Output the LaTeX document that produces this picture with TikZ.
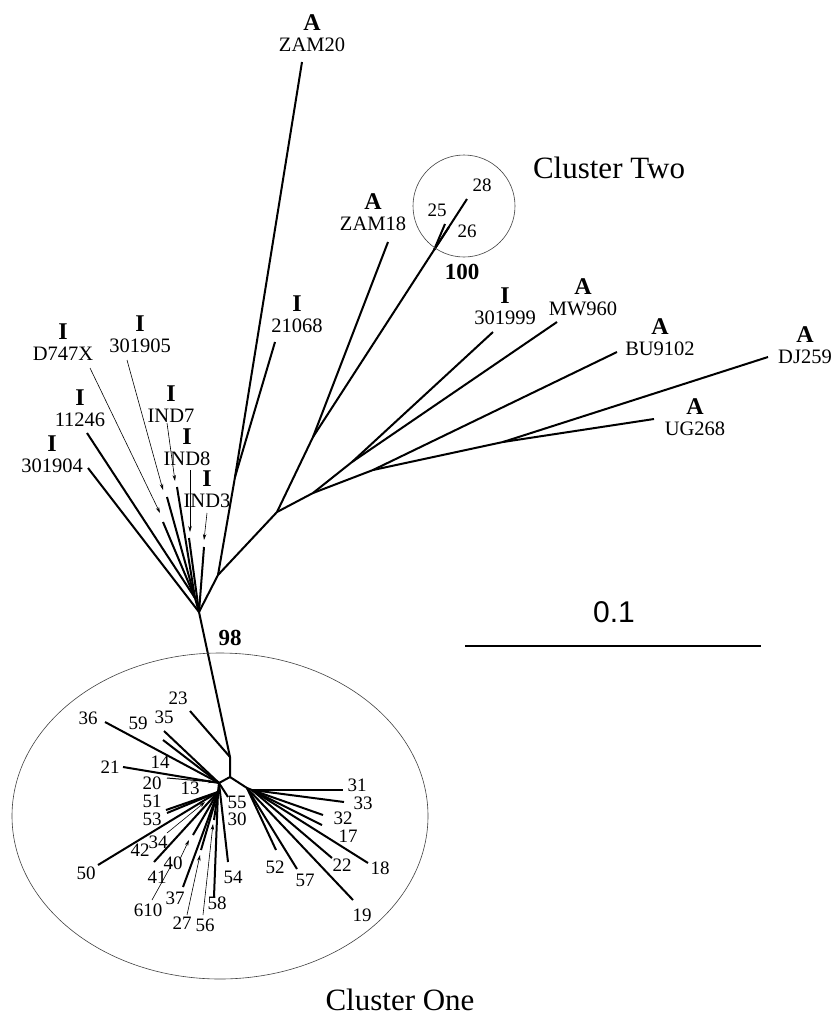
\documentclass[tikz,border=0pt]{standalone}
\usepackage{fontspec}
\setmainfont{Liberation Serif}
\newfontfamily\barfont{Liberation Sans}
\usetikzlibrary{arrows.meta}
\newcommand\strainlbl[2]{{\fontsize{24}{24}\selectfont\bfseries #1}\\#2}
\begin{document}
\begin{tikzpicture}[x=1pt,y=-1pt,
 br/.style={line width=2pt},
 lead/.style={line width=0.6pt,-{Stealth[length=6pt,width=3.5pt]}},
 plain/.style={line width=0.6pt},
 num/.style={font=\fontsize{19}{19}\selectfont,inner sep=0pt},
 strain/.style={font=\fontsize{20.5}{21.5}\selectfont,align=center,inner sep=0pt},
 boot/.style={font=\fontsize{23}{23}\selectfont\bfseries,inner sep=0pt},
 ring/.style={draw=black!75,line width=0.6pt}]
\useasboundingbox (0,0) rectangle (835,1026);

% ---------- internal nodes, upper tree ----------
\coordinate (r0) at (199,612);
\coordinate (n1) at (218,575);
\coordinate (j1) at (235,477);
\coordinate (n2) at (277,512);
\coordinate (n3) at (313,437);
\coordinate (n4) at (434,250);
\coordinate (n5) at (313,493);
\coordinate (n6) at (352,462);
\coordinate (n7) at (373,470);
\coordinate (n8) at (503,442);
\coordinate (cv) at (195,598);

% leaves upper tree
\coordinate (lzam20) at (302,62);
\coordinate (l21068) at (275,342);
\coordinate (lzam18) at (388,242);
\coordinate (l28) at (467,199);
\coordinate (l25) at (445,224);
\coordinate (l26) at (449,227);
\coordinate (l301999) at (493,332);
\coordinate (lmw) at (557,322);
\coordinate (lbu) at (617,352);
\coordinate (ldj) at (768,357);
\coordinate (lug) at (654,419);
\coordinate (l11246) at (87,433);
\coordinate (l301904) at (88,468);
\coordinate (ld747) at (163,522);
\coordinate (l301905) at (167,497);
\coordinate (lind7) at (177,487);
\coordinate (lind8) at (189,538);
\coordinate (lind3) at (204,547);

% arrow tails/heads for upper labels
\coordinate (ad1) at (90,368);   \coordinate (ad2) at (160,513);
\coordinate (ae1) at (127,360);  \coordinate (ae2) at (163,490);
\coordinate (af1) at (167,423);  \coordinate (af2) at (175,481);
\coordinate (ag1) at (190,470);  \coordinate (ag2) at (190,532);
\coordinate (ah1) at (207,513);  \coordinate (ah2) at (204,540);

% branches upper tree
\draw[br] (r0) -- (n1) -- (j1) -- (lzam20);
\draw[br] (j1) -- (l21068);
\draw[br] (n1) -- (n2) -- (n3) -- (lzam18);
\draw[br] (n3) -- (n4) -- (l28);
\draw[br] (n4) -- (l25);
\draw[br] (n4) -- (l26);
\draw[br] (n2) -- (n5) -- (n6) -- (l301999);
\draw[br] (n6) -- (lmw);
\draw[br] (n5) -- (n7) -- (lbu);
\draw[br] (n7) -- (n8) -- (ldj);
\draw[br] (n8) -- (lug);
\draw[br] (r0) -- (l301904);
\draw[br] (cv) -- (l11246);
\draw[br] (cv) -- (ld747);
\draw[br] (cv) -- (l301905);
\draw[br] (cv) -- (lind7);
\draw[br] (r0) -- (cv);
\draw[br] (r0) -- (lind8);
\draw[br] (r0) -- (lind3);
\draw[lead] (ad1) -- (ad2);
\draw[lead] (ae1) -- (ae2);
\draw[lead] (af1) -- (af2);
\draw[lead] (ag1) -- (ag2);
\draw[lead] (ah1) -- (ah2);

% upper labels
\node[strain] (tzam20) at (312,33) {\strainlbl{A}{ZAM20}};
\node[strain] (tzam18) at (373,212) {\strainlbl{A}{ZAM18}};
\node[strain] (t21068) at (297,314) {\strainlbl{I}{21068}};
\node[strain] (t301999) at (505,306) {\strainlbl{I}{301999}};
\node[strain] (tmw) at (583,297) {\strainlbl{A}{MW960}};
\node[strain] (tbu) at (660,337) {\strainlbl{A}{BU9102}};
\node[strain] (tdj) at (805,345) {\strainlbl{A}{DJ259}};
\node[strain] (tug) at (695,417) {\strainlbl{A}{UG268}};
\node[strain] (td747) at (63,342) {\strainlbl{I}{D747X}};
\node[strain] (t301905) at (140,334) {\strainlbl{I}{301905}};
\node[strain] (t11246) at (80,408) {\strainlbl{I}{11246}};
\node[strain] (t301904) at (52,454) {\strainlbl{I}{301904}};
\node[strain] (tind7) at (171,404) {\strainlbl{I}{IND7}};
\node[strain] (tind8) at (187,447) {\strainlbl{I}{IND8}};
\node[strain] (tind3) at (207,489) {\strainlbl{I}{IND3}};

\node[num] (t28) at (482,185) {28};
\node[num] (t25) at (437,210) {25};
\node[num] (t26) at (467,231) {26};
\node[boot] (b100) at (462,272) {100};
\node[boot] (b98) at (230,638) {98};

% cluster two ring and title
\draw[ring] (464,206) ellipse [x radius=51, y radius=51];
\node[font=\fontsize{31}{31}\selectfont,inner sep=0pt] (ctwo) at (609,168) {Cluster Two};

% ---------- cluster one ----------
\coordinate (s1) at (230,757);
\coordinate (s2) at (230,777);
\coordinate (hl) at (219,783);
\coordinate (hl2) at (218,792);
\coordinate (hr) at (247,788);
\coordinate (hr2) at (252,790);

\draw[br] (r0) -- (s1) -- (s2) -- (hl);
\draw[br] (hl) -- (hl2);
\draw[br] (s2) -- (hr);

\coordinate (c23) at (190,711);
\coordinate (c36) at (105,722);
\coordinate (c59) at (163,740);
\coordinate (c35) at (164,731);
\coordinate (c21) at (123,767);
\coordinate (c51) at (166,810);
\coordinate (c53) at (167,813);
\coordinate (c42) at (154,862);
\coordinate (c50) at (98,865);
\coordinate (c40) at (193,835);
\coordinate (c37) at (183,887);
\coordinate (c27) at (201,850);
\coordinate (c56) at (214,820);
\coordinate (c58) at (214,897);
\coordinate (c54) at (228,862);
\coordinate (c55) at (228,797);
\coordinate (c31) at (343,790);
\coordinate (c33) at (344,802);
\coordinate (c32) at (323,815);
\coordinate (c17) at (322,825);
\coordinate (c18) at (368,863);
\coordinate (c22) at (332,858);
\coordinate (c19) at (353,900);
\coordinate (c57) at (297,869);
\coordinate (c52) at (276,850);

\draw[br] (s1) -- (c23);
\foreach \c in {c36,c59,c35,c21} \draw[br] (hl) -- (\c);
\foreach \c in {c51,c53,c42,c50,c40,c37,c27,c56,c58} \draw[br] (hl2) -- (\c);
\draw[br] (hl) -- (c54);
\draw[br] (hl) -- (c55);
\draw[br] (hr) -- (hr2);
\foreach \c in {c31,c33,c32,c17,c18,c22} \draw[br] (hr2) -- (\c);
\foreach \c in {c19,c57,c52} \draw[br] (hr) -- (\c);

% thin leaders in cluster one
\coordinate (a20a) at (167,778);  \coordinate (a20b) at (214,782);
\coordinate (a34a) at (167,833);  \coordinate (a34b) at (205,802);
\coordinate (a40a) at (180,859);  \coordinate (a40b) at (189,840);
\coordinate (a61a) at (152,900);  \coordinate (a61b) at (172,864);
\coordinate (a27a) at (187,915);  \coordinate (a27b) at (200,855);
\coordinate (a56a) at (203,915);  \coordinate (a56b) at (213,824);
\draw[lead,line width=1pt] (a20a) -- (a20b);
\draw[lead] (a34a) -- (a34b);
\draw[lead] (a40a) -- (a40b);
\draw[plain] (a61a) -- (a61b);
\draw[lead] (a27a) -- (a27b);
\draw[lead] (a56a) -- (a56b);

% cluster one labels
\node[num] (k23) at (178,698) {23};
\node[num] (k36) at (88,718) {36};
\node[num] (k59) at (138,723) {59};
\node[num] (k35) at (164,717) {35};
\node[num] (k14) at (160,762) {14};
\node[num] (k21) at (110,767) {21};
\node[num] (k20) at (152,783) {20};
\node[num] (k13) at (190,788) {13};
\node[num] (k51) at (152,801) {51};
\node[num] (k53) at (152,819) {53};
\node[num] (k34) at (158,842) {34};
\node[num] (k42) at (140,850) {42};
\node[num] (k50) at (86,873) {50};
\node[num] (k40) at (173,863) {40};
\node[num] (k41) at (157,877) {41};
\node[num] (k610) at (148,910) {610};
\node[num] (k37) at (175,898) {37};
\node[num] (k27) at (182,923) {27};
\node[num] (k56) at (205,925) {56};
\node[num] (k58) at (217,903) {58};
\node[num] (k54) at (233,877) {54};
\node[num] (k55) at (237,802) {55};
\node[num] (k30) at (237,819) {30};
\node[num] (k52) at (275,867) {52};
\node[num] (k57) at (305,880) {57};
\node[num] (k19) at (362,915) {19};
\node[num] (k22) at (342,865) {22};
\node[num] (k18) at (380,868) {18};
\node[num] (k17) at (348,836) {17};
\node[num] (k32) at (343,818) {32};
\node[num] (k33) at (363,803) {33};
\node[num] (k31) at (357,785) {31};

\draw[ring] (220,816) ellipse [x radius=208, y radius=163];
\node[font=\fontsize{31}{31}\selectfont,inner sep=0pt] (cone) at (400,1000) {Cluster One};

% scale bar
\coordinate (sb1) at (465,646);
\coordinate (sb2) at (761,646);
\draw[line width=2.4pt] (sb1) -- (sb2);
\node[font=\barfont\fontsize{30}{30}\selectfont,inner sep=0pt] (sbl) at (614,612) {0.1};
\end{tikzpicture}
\end{document}
